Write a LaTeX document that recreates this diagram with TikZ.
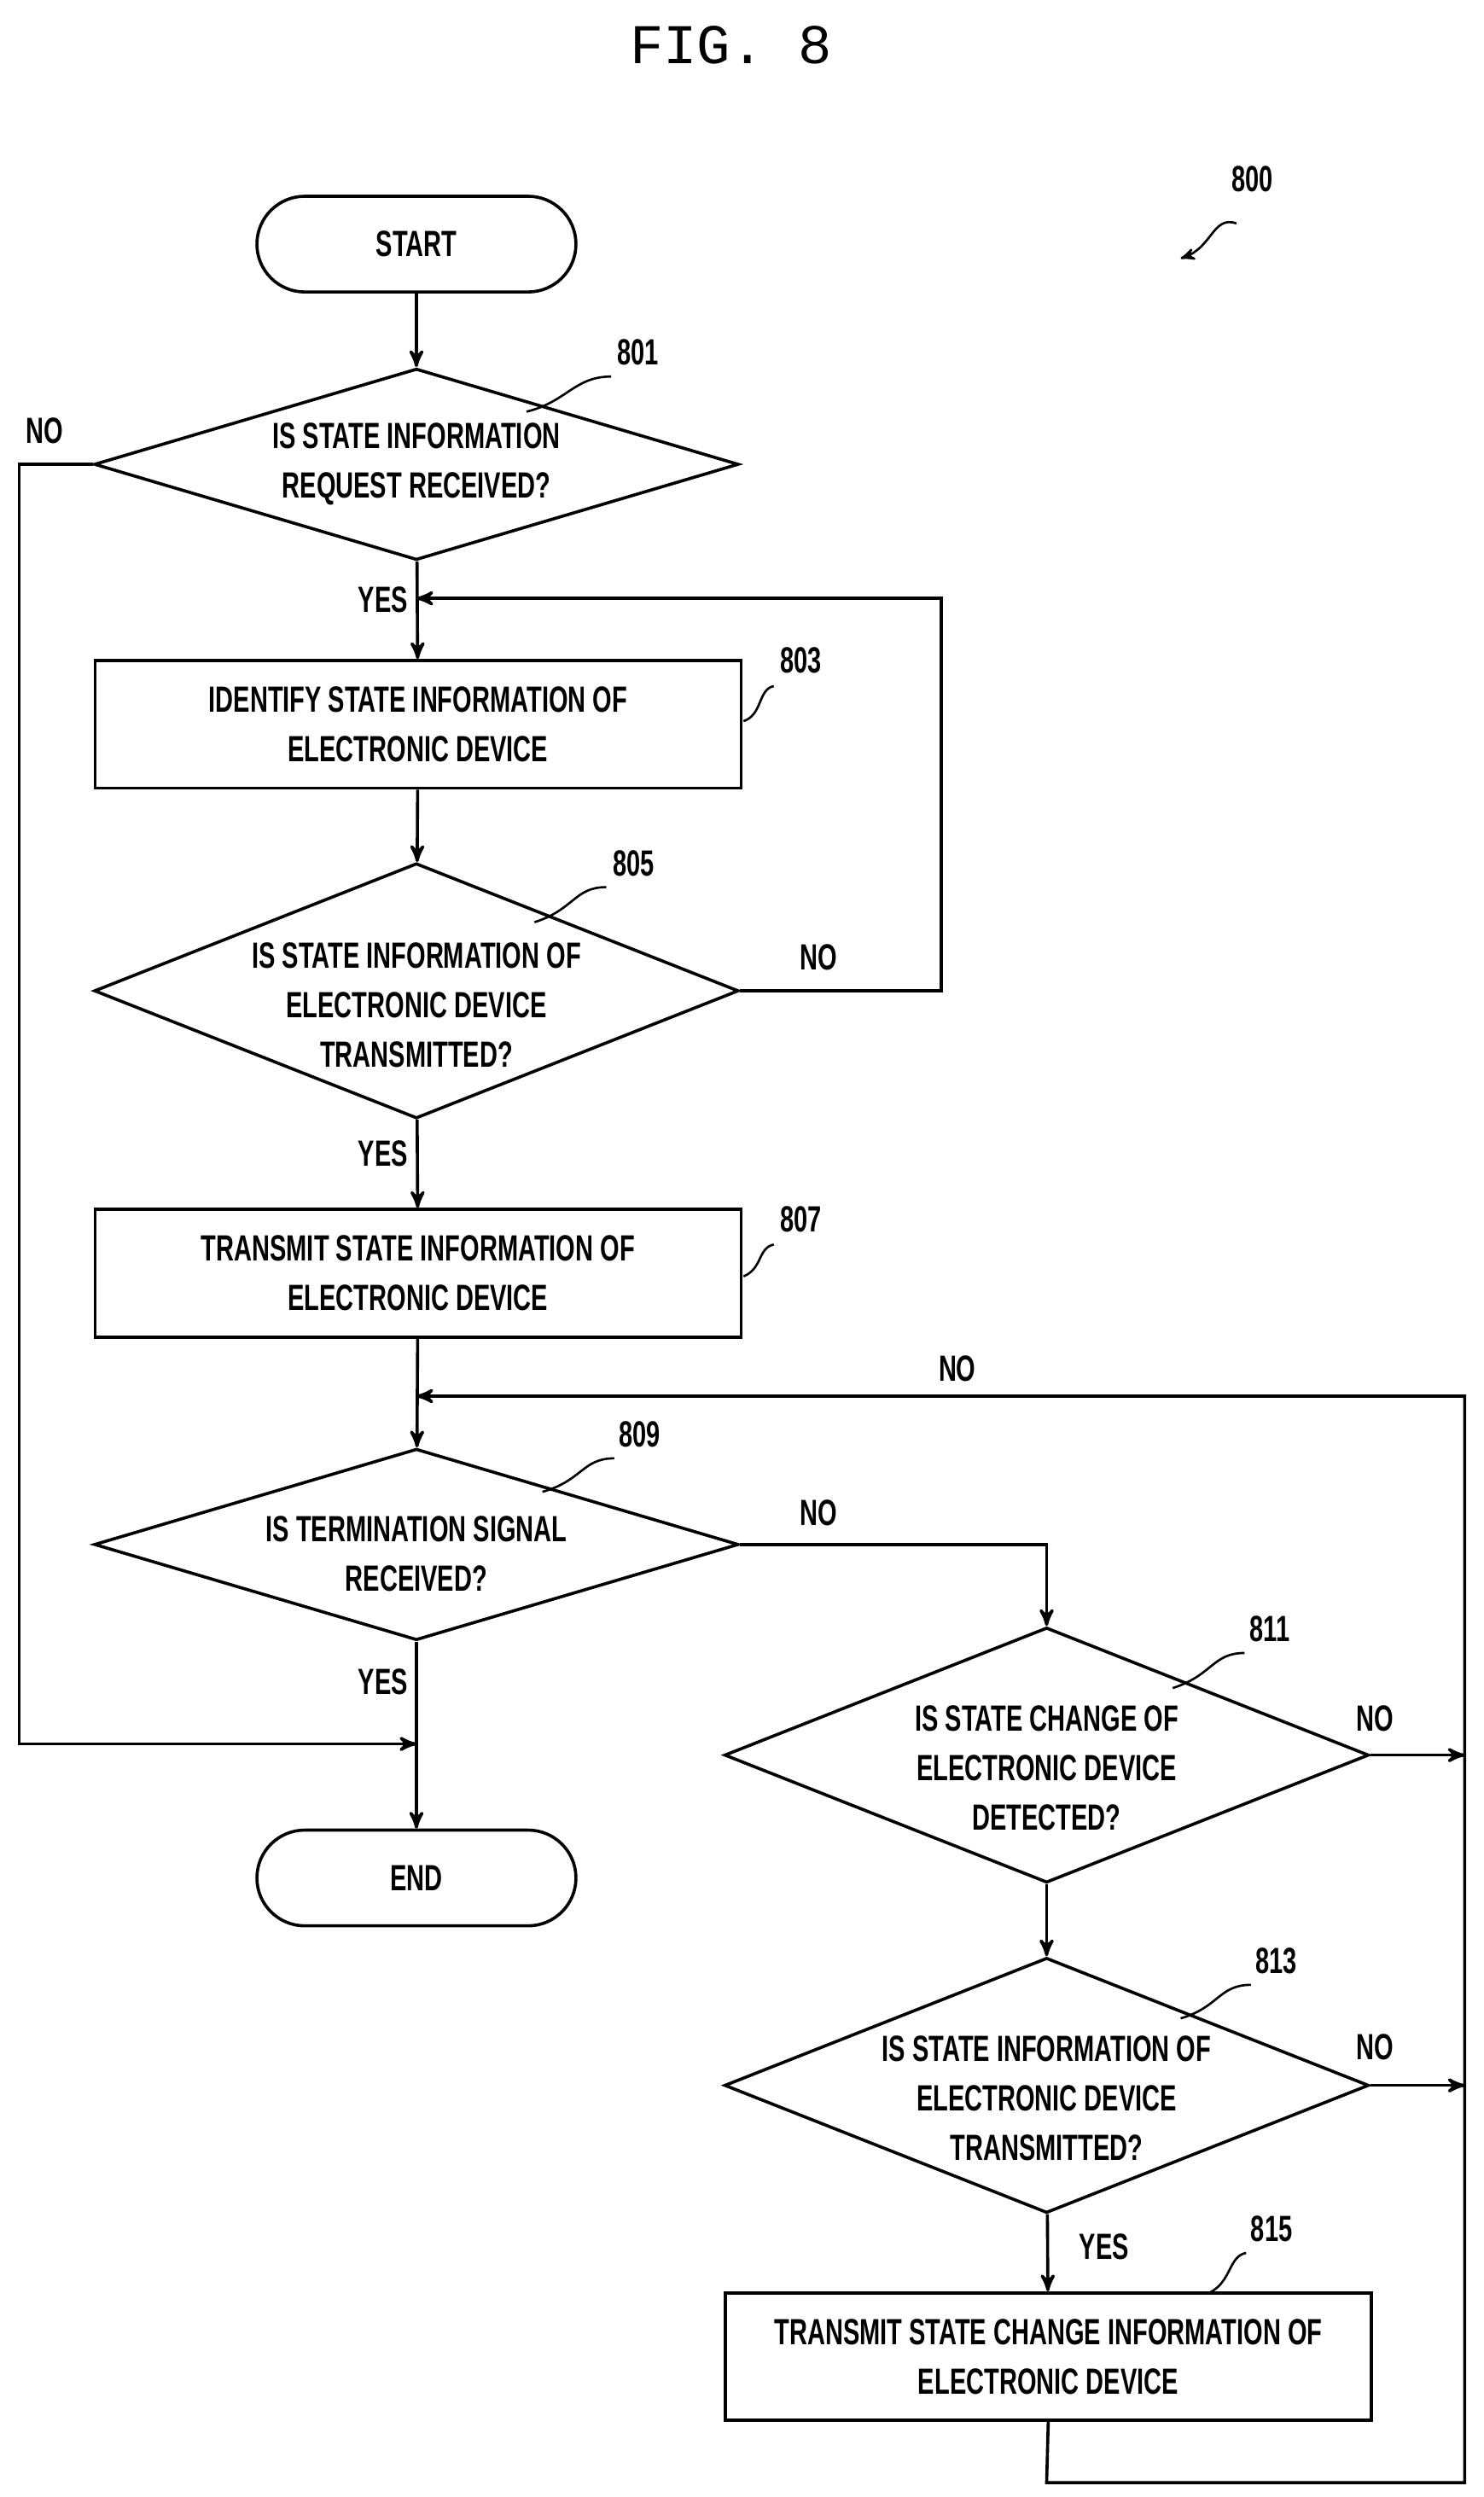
\documentclass[tikz,border=0pt]{standalone}
\usepackage{fontspec}
\setmainfont{Liberation Sans}[FakeStretch=0.68]
\newfontfamily\figfont{Liberation Mono}
\usetikzlibrary{arrows}
\usetikzlibrary{shapes.geometric}
\usetikzlibrary{positioning}

\begin{document}
\begin{tikzpicture}[
    x=0.02cm, y=-0.02cm,
    line width=1.1pt,
    every node/.style={font=\fontsize{13}{17.6}\selectfont\bfseries},
    term/.style={rectangle, rounded corners=0.6cm, draw, minimum width=4cm, minimum height=1.2cm},
    process/.style={rectangle, draw, minimum width=8.1cm, minimum height=1.6cm, align=center},
    test/.style={diamond, draw, minimum width=8.08cm, inner sep=0pt},
    txt/.style={align=center, inner sep=0pt},
    arrow/.style={>=stealth', ->},
    ref/.style={inner sep=1pt},
    lead/.style={line width=0.8pt}
  ]
  \useasboundingbox (0,0) rectangle (930,1565);
  \node[font=\figfont\fontsize{20}{24}\selectfont] (fig) at (458,28) {FIG. 8};
  \node[ref] (n800) at (785,112) {800};
  \draw[lead,arrow] (775,140) .. controls (760,135) and (760,155) .. (740,162);

  % start
  \node[term] (start) at (261,153) {START};
  \node[test, minimum height=2.4cm] (d801) at (261,291) {};
  \node[txt] (t801) at (261,291) {IS STATE INFORMATION\\REQUEST RECEIVED?};
  \node[process] (s803) at (262,454) {IDENTIFY STATE INFORMATION OF\\ELECTRONIC DEVICE};
  \node[test, minimum height=3.2cm] (d805) at (261,621) {};
  \node[txt] (t805) at (261,630) {IS STATE INFORMATION OF\\ELECTRONIC DEVICE\\TRANSMITTED?};
  \node[process] (s807) at (262,798) {TRANSMIT STATE INFORMATION OF\\ELECTRONIC DEVICE};
  \node[test, minimum height=2.4cm] (d809) at (261,968) {};
  \node[txt] (t809) at (261,974) {IS TERMINATION SIGNAL\\RECEIVED?};
  \node[term] (end) at (261,1177) {END};
  \node[test, minimum height=3.2cm] (d811) at (656,1100) {};
  \node[txt] (t811) at (656,1108) {IS STATE CHANGE OF\\ELECTRONIC DEVICE\\DETECTED?};
  \node[test, minimum height=3.2cm] (d813) at (656,1307) {};
  \node[txt] (t813) at (656,1315) {IS STATE INFORMATION OF\\ELECTRONIC DEVICE\\TRANSMITTED?};
  \node[process] (s815) at (657,1477) {TRANSMIT STATE CHANGE INFORMATION OF\\ELECTRONIC DEVICE};

  % reference numerals
  \node[ref] (n801) at (400,221) {801};
  \node[ref] (n803) at (502,414) {803};
  \node[ref] (n805) at (397,541) {805};
  \node[ref] (n807) at (502,764) {807};
  \node[ref] (n809) at (401,899) {809};
  \node[ref] (n811) at (796,1021) {811};
  \node[ref] (n813) at (800,1229) {813};
  \node[ref] (n815) at (797,1397) {815};
  \draw[lead] (383,236) .. controls (360,236) and (355,252) .. (330,258);
  \draw[lead] (485,430) .. controls (475,432) and (478,448) .. (466,452);
  \draw[lead] (380,556) .. controls (360,556) and (360,570) .. (335,578);
  \draw[lead] (485,780) .. controls (475,782) and (478,795) .. (466,800);
  \draw[lead] (385,914) .. controls (365,914) and (365,928) .. (340,935);
  \draw[lead] (780,1036) .. controls (760,1036) and (760,1050) .. (735,1058);
  \draw[lead] (784,1244) .. controls (764,1244) and (764,1258) .. (740,1265);
  \draw[lead] (781,1412) .. controls (770,1414) and (772,1430) .. (758,1437);

  % yes/no labels
  \node (no801) at (28,270) {NO};
  \node (yes801) at (240,376) {YES};
  \node (no805) at (513,600) {NO};
  \node (yes805) at (240,723) {YES};
  \node (noloop) at (600,858) {NO};
  \node (no809) at (513,948) {NO};
  \node (yes809) at (240,1054) {YES};
  \node (no811) at (862,1077) {NO};
  \node (no813) at (862,1283) {NO};
  \node (yes813) at (692,1408) {YES};

  \coordinate (m375) at (261,375);
  \coordinate (m875) at (261,875);
  \coordinate (m1093) at (261,1093);
  \coordinate (r1100) at (918,1100);
  \coordinate (r1307) at (918,1307);

  % connectors
  \draw[arrow] (start) -- (d801);
  \draw[arrow] (d801) -- (s803);
  \draw[arrow] (s803) -- (d805);
  \draw[arrow] (d805) -- (s807);
  \draw[arrow] (s807) -- (d809);
  \draw[arrow] (d809) -- (end);
  \draw[arrow] (d801.west) -- (12,291) -- (12,1093) -- (m1093);
  \draw[arrow] (d805.east) -- (590,621) -- (590,375) -- (m375);
  \draw[arrow] (d809.east) -- (656,968) -- (d811.north);
  \draw[arrow] (d811) -- (d813);
  \draw[arrow] (d813) -- (s815);
  \draw[arrow] (d811.east) -- (r1100);
  \draw[arrow] (d813.east) -- (r1307);
  \draw[arrow] (s815.south) -- (656,1556) -- (918,1556) -- (918,875) -- (m875);
\end{tikzpicture}
\end{document}
